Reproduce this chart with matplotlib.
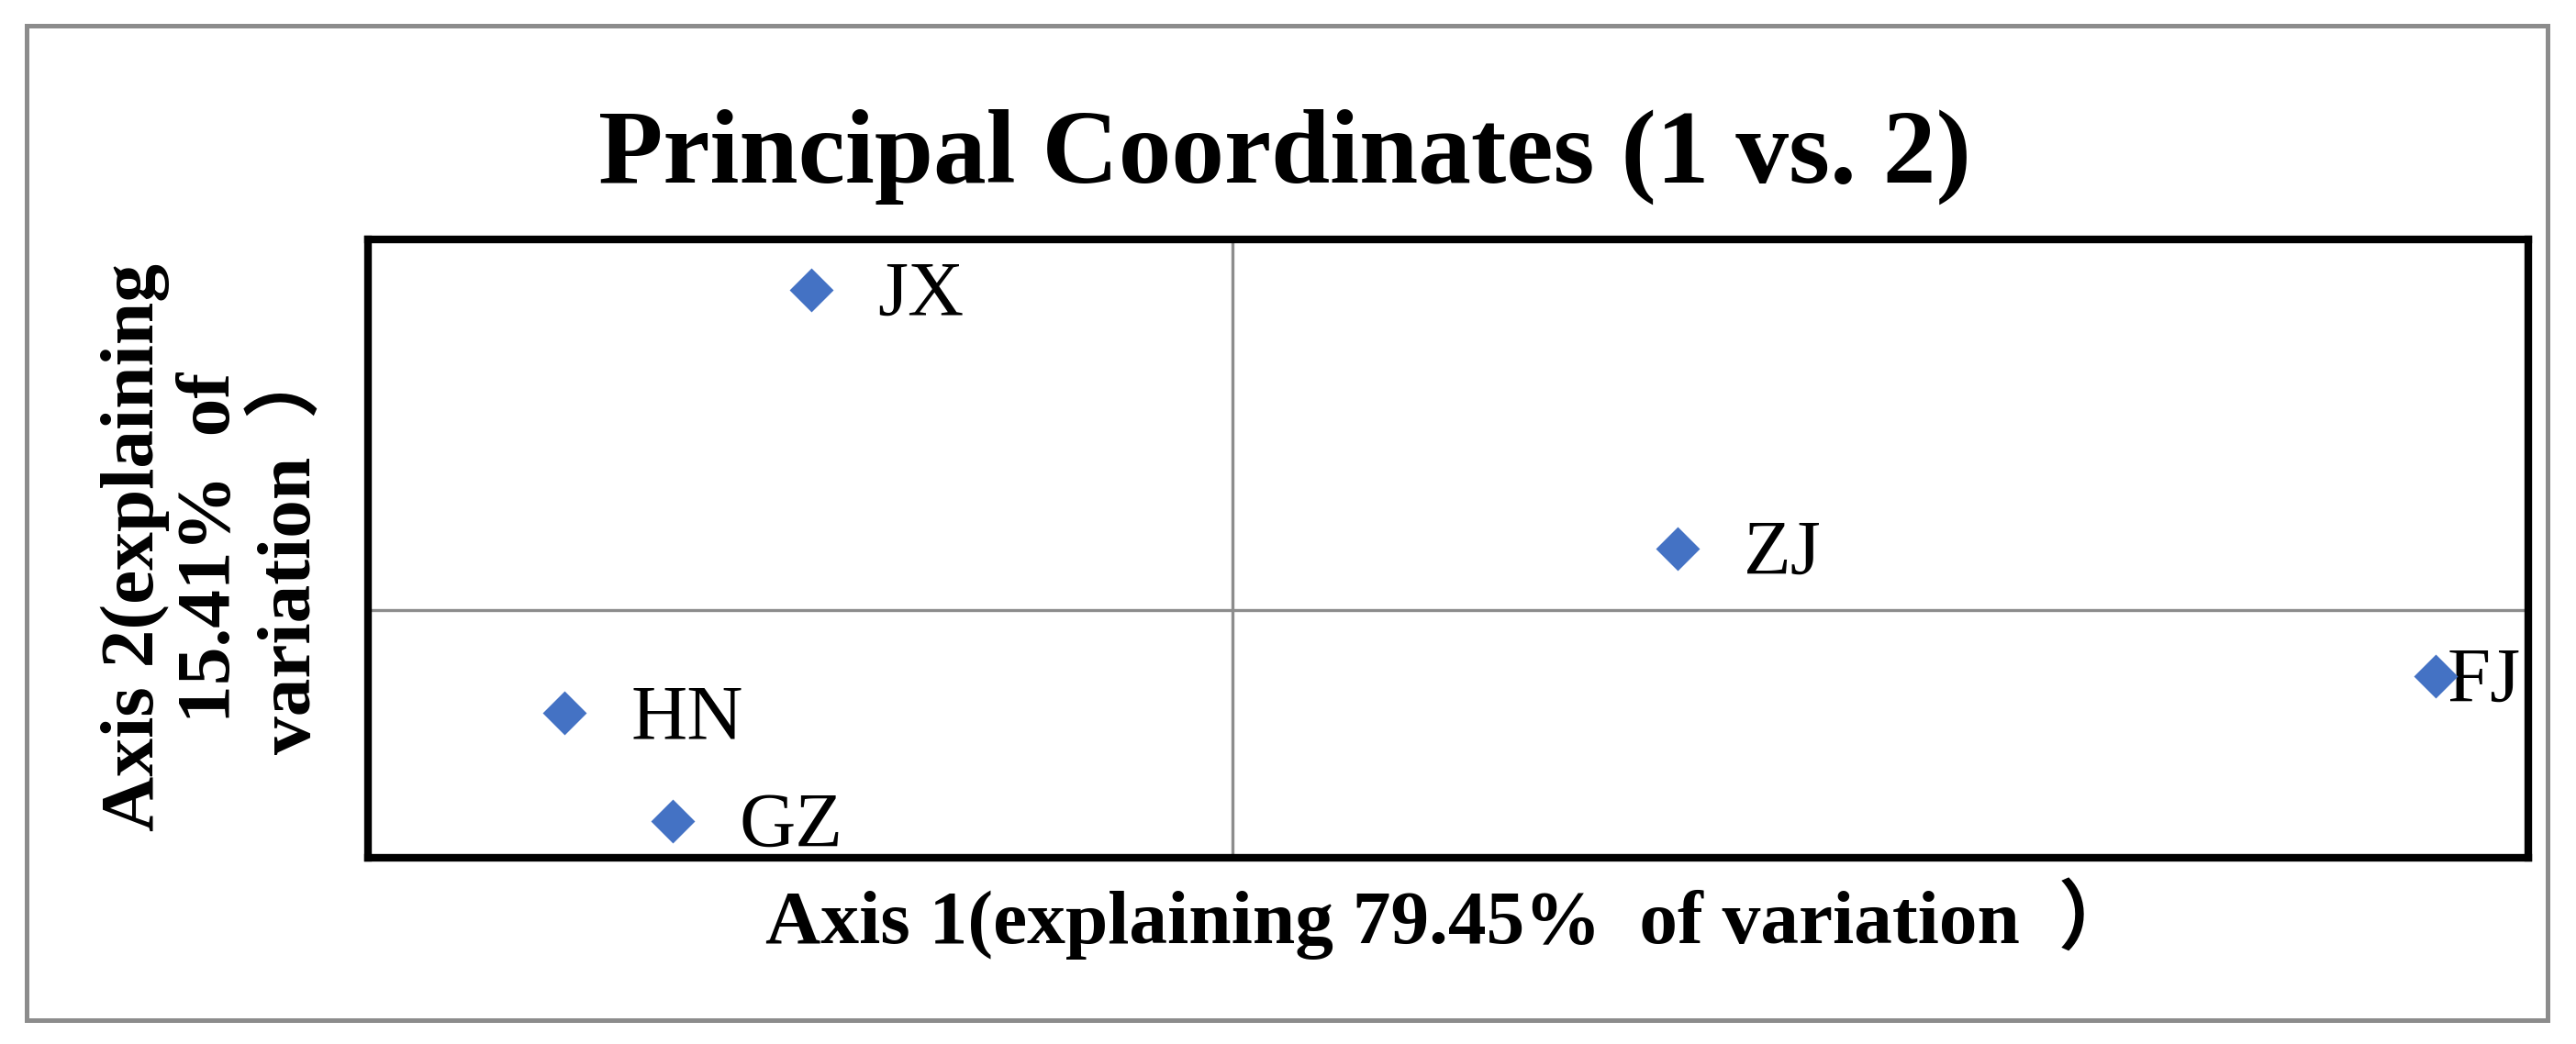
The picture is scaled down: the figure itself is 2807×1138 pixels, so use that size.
import matplotlib
matplotlib.use("Agg")
import matplotlib.pyplot as plt
from matplotlib.patches import Rectangle

# PCoA scores (axes have no ticks, scale estimated)
sites = ["JX", "ZJ", "HN", "GZ", "FJ"]
axis1 = [-0.195, 0.206, -0.309, -0.259, 0.557]
axis2 = [0.259, 0.050, -0.083, -0.170, -0.053]

title = "Principal Coordinates (1 vs. 2)"
xlabel = "Axis 1(explaining 79.45%  of variation  \uff09"
ylabel = "Axis 2(explaining\n15.41%  of\nvariation  \uff09"

W, H = 2807, 1138
SERIF = ["Liberation Serif", "Noto Sans CJK SC", "DejaVu Sans"]
GRAY = "#8c8c8c"
BLUE = "#4472c4"

fig = plt.figure(figsize=(W / 100, H / 100), dpi=100)
fig.patch.set_facecolor("white")

# outer chart border
fig.patches.append(Rectangle((29 / W, 1 - 1112 / H), (2776 - 29) / W, (1112 - 28) / H,
                             transform=fig.transFigure, fill=False,
                             edgecolor=GRAY, linewidth=3.6, zorder=0))

ax = fig.add_axes([401 / W, 1 - 935 / H, (2755 - 401) / W, (935 - 261) / H])
ax.set_xlim(-0.4, 0.6)
ax.set_ylim(-0.2, 0.3)
ax.set_xticks([])
ax.set_yticks([])
for s in ax.spines.values():
    s.set_linewidth(6)
    s.set_color("black")
    s.set_zorder(5)

ax.axvline(0, color=GRAY, lw=2.4, zorder=1)
ax.axhline(0, color=GRAY, lw=2.4, zorder=1)

ax.plot(axis1, axis2, linestyle="none", marker="D", markersize=22,
        color=BLUE, markeredgecolor=BLUE, markeredgewidth=2, zorder=3)

labels = []
for name, x, y in zip(sites, axis1, axis2):
    t = ax.annotate(name, (x, y), xytext=(52, -20), textcoords="offset points",
                    ha="left", va="baseline", fontsize=61, family=SERIF,
                    color="black", zorder=2)
    labels.append(t)

fig.text(1400 / W, 1 - 199 / H, title, ha="center", va="baseline",
         fontsize=83, fontweight="bold", family=SERIF)
fig.text(1580 / W, 1 - 1028 / H, xlabel, ha="center", va="baseline",
         fontsize=60, fontweight="bold", family=SERIF)
fig.text(233 / W, 1 - 597 / H, ylabel, ha="center", va="center", rotation=90,
         fontsize=60, fontweight="bold", family=SERIF, linespacing=1.13,
         multialignment="center")

# keep data labels inside the plot area, like the spreadsheet does
fig.canvas.draw()
renderer = fig.canvas.get_renderer()
right = ax.get_window_extent(renderer).x1 - 8
for t in labels:
    bb = t.get_window_extent(renderer)
    if bb.x1 > right:
        dx = (bb.x1 - right) * 72 / fig.dpi
        ox, oy = t.xyann
        t.xyann = (ox - dx, oy)

fig.savefig("out.png", dpi=100, facecolor="white")
